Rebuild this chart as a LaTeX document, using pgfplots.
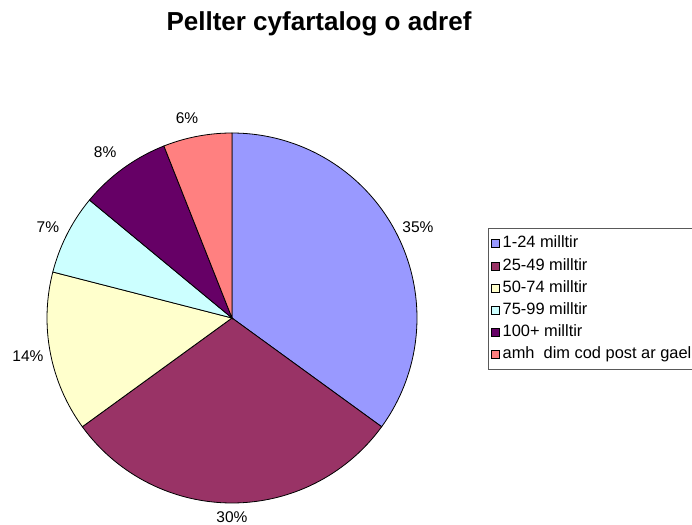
\documentclass[border=0pt]{standalone}
\usepackage{fontspec}
\setmainfont{Liberation Sans}
\usepackage{pgfplots}
\pgfplotsset{compat=1.18}
\definecolor{c1}{HTML}{9999FF}
\definecolor{c2}{HTML}{993366}
\definecolor{c3}{HTML}{FFFFCC}
\definecolor{c4}{HTML}{CCFFFF}
\definecolor{c5}{HTML}{660066}
\definecolor{c6}{HTML}{FF8080}
\pgfplotsset{sq/.style={legend image code/.code={\filldraw[fill=#1,draw=black,line width=0.7pt] (0pt,-4pt) rectangle (8pt,4pt); \path (10.5pt,0pt);}}}
\begin{document}
\begin{tikzpicture}[x=1pt,y=1pt]
\path[use as bounding box] (0,0) rectangle (692,524);
\clip (0,0) rectangle (692,524);
\node[anchor=base, font=\fontsize{26}{30}\selectfont\bfseries] at (319,493) {Pellter cyfartalog o adref};
\begin{axis}[
  at={(232pt,206pt)}, anchor=center,
  scale only axis, width=370pt, height=370pt,
  xmin=-1, xmax=1, ymin=-1, ymax=1,
  hide axis, clip=false,
  every axis plot/.append style={draw=black, line width=0.8pt},
  legend style={at={(1.192,0.743)}, anchor=north west, draw=black!65, line width=0.8pt,
    fill=white, font=\fontsize{16.4}{19}\selectfont, inner xsep=3pt, inner ysep=8pt,
    row sep=7.8pt,
    nodes={inner sep=0pt, text height=11.4pt, text depth=3pt, anchor=west},
    cells={anchor=west}},
  legend cell align=left,
]
% percentages: 35, 30, 14, 7, 8, 6 (clockwise from 12 o'clock)
\addplot[fill=c1, domain={90-3.6*35}:{90}, samples=80, forget plot] ({cos(x)},{sin(x)}) -- (axis cs:0,0) -- cycle;
\addplot[fill=c2, domain={90-3.6*65}:{90-3.6*35}, samples=80, forget plot] ({cos(x)},{sin(x)}) -- (axis cs:0,0) -- cycle;
\addplot[fill=c3, domain={90-3.6*79}:{90-3.6*65}, samples=40, forget plot] ({cos(x)},{sin(x)}) -- (axis cs:0,0) -- cycle;
\addplot[fill=c4, domain={90-3.6*86}:{90-3.6*79}, samples=30, forget plot] ({cos(x)},{sin(x)}) -- (axis cs:0,0) -- cycle;
\addplot[fill=c5, domain={90-3.6*94}:{90-3.6*86}, samples=30, forget plot] ({cos(x)},{sin(x)}) -- (axis cs:0,0) -- cycle;
\addplot[fill=c6, domain={90-3.6*100}:{90-3.6*94}, samples=30, forget plot] ({cos(x)},{sin(x)}) -- (axis cs:0,0) -- cycle;
% labels
\begin{scope}[every node/.style={font=\fontsize{15.5}{18}\selectfont}]
\node at (axis cs:1.005,0.492) {35\%};
\node at (axis cs:0,-1.075) {30\%};
\node at (axis cs:-1.103,-0.205) {14\%};
\node at (axis cs:-0.995,0.492) {7\%};
\node at (axis cs:-0.686,0.897) {8\%};
\node at (axis cs:-0.243,1.081) {6\%};
\end{scope}
\addlegendimage{sq=c1}
\addlegendentry{1-24 milltir}
\addlegendimage{sq=c2}
\addlegendentry{25-49 milltir}
\addlegendimage{sq=c3}
\addlegendentry{50-74 milltir}
\addlegendimage{sq=c4}
\addlegendentry{75-99 milltir}
\addlegendimage{sq=c5}
\addlegendentry{100+ milltir}
\addlegendimage{sq=c6}
\addlegendentry{amh\ \ dim cod post ar gael}
\end{axis}
\end{tikzpicture}
\end{document}
